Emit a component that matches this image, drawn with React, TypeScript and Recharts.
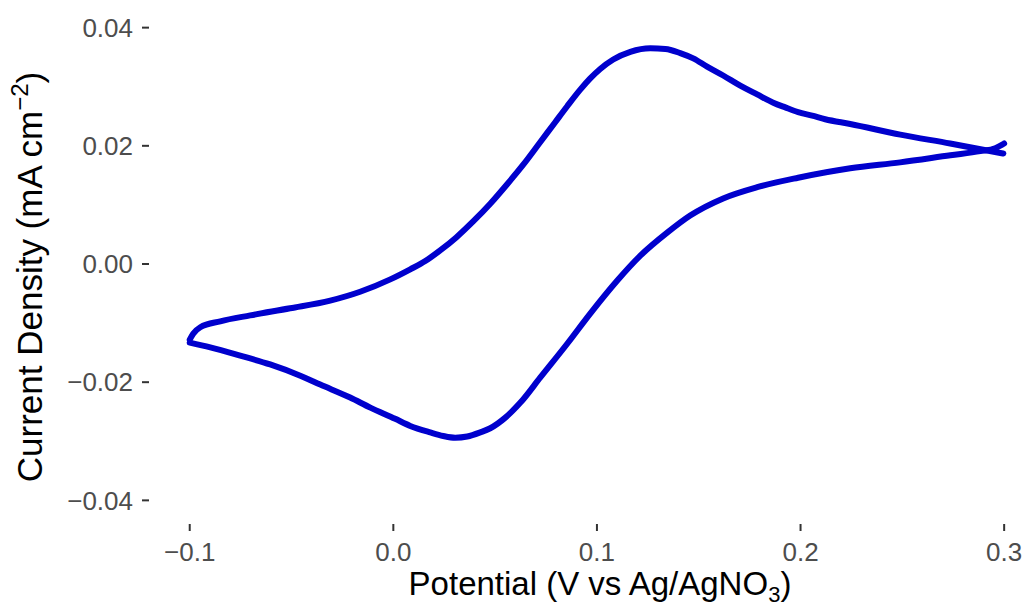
import { LineChart, Line, XAxis, YAxis } from 'recharts';

// reverse (cathodic) scan, listed by increasing potential
const reversePotential = [
  -0.1000, -0.0899, -0.0752, -0.0605, -0.0457, -0.0359, -0.0212, -0.0113, 0.0009, 0.0083,
  0.0181, 0.0245, 0.0304, 0.0363, 0.0427, 0.0476, 0.0550, 0.0623, 0.0722, 0.0854,
  0.0967, 0.1100, 0.1213, 0.1345, 0.1458, 0.1620, 0.1787, 0.1988, 0.2244, 0.2489,
  0.2736, 0.2883, 0.2956, 0.3000,
];
const reverseCurrent = [
  -0.0133, -0.0141, -0.0155, -0.0170, -0.0189, -0.0204, -0.0226, -0.0243, -0.0262, -0.0274,
  -0.0285, -0.0291, -0.0294, -0.0292, -0.0285, -0.0278, -0.0260, -0.0235, -0.0192, -0.0135,
  -0.0084, -0.0028, 0.0014, 0.0053, 0.0082, 0.0111, 0.0130, 0.0146, 0.0162, 0.0172,
  0.0184, 0.0191, 0.0196, 0.0204,
];

// forward (anodic) scan
const forwardPotential = [
  -0.1000, -0.0983, -0.0948, -0.0850, -0.0703, -0.0507, -0.0310, -0.0163, -0.0015, 0.0083,
  0.0157, 0.0230, 0.0309, 0.0392, 0.0476, 0.0559, 0.0638, 0.0721, 0.0795, 0.0854,
  0.0918, 0.0967, 0.1016, 0.1080, 0.1164, 0.1262, 0.1336, 0.1409, 0.1473, 0.1541,
  0.1620, 0.1704, 0.1787, 0.1866, 0.1925, 0.1988, 0.2057, 0.2121, 0.2244, 0.2490,
  0.2735, 0.2996,
];
const forwardCurrent = [
  -0.0128, -0.0118, -0.0107, -0.0097, -0.0087, -0.0075, -0.0062, -0.0047, -0.0026, -0.0009,
  0.0005, 0.0023, 0.0045, 0.0072, 0.0102, 0.0135, 0.0168, 0.0206, 0.0240, 0.0267,
  0.0295, 0.0314, 0.0330, 0.0346, 0.0359, 0.0365, 0.0364, 0.0357, 0.0348, 0.0334,
  0.0319, 0.0302, 0.0287, 0.0273, 0.0265, 0.0257, 0.0251, 0.0245, 0.0237, 0.0219,
  0.0204, 0.0187,
];

const xTicks = [-0.1, 0, 0.1, 0.2, 0.3];
const yTicks = [-0.04, -0.02, 0, 0.02, 0.04];

const reverseData = reversePotential.map((v, i) => ({ potential: v, current: reverseCurrent[i] }));
const forwardData = forwardPotential.map((v, i) => ({ potential: v, current: forwardCurrent[i] }));

const FONT = '"Liberation Sans", Arial, Helvetica, sans-serif';
const BLUE = '#0000cd';

const fmtX = (v: number) => (v < 0 ? '\u2212' : '') + Math.abs(v).toFixed(1);
const fmtY = (v: number) => (v < 0 ? '\u2212' : '') + Math.abs(v).toFixed(2);

export default function App() {
  return (
    <div style={{ position: 'absolute', left: 0, top: 0, width: 1029, height: 606, background: '#fff', fontFamily: FONT }}>
      <LineChart width={1029} height={606} margin={{ top: 4, right: 0, bottom: 0, left: 0 }}>
        <XAxis
          type="number"
          dataKey="potential"
          domain={[-0.12, 0.3122]}
          allowDataOverflow
          ticks={xTicks}
          interval={0}
          tickFormatter={fmtX}
          height={82}
          axisLine={false}
          tickSize={7}
          tickMargin={12}
          tickLine={{ stroke: '#333333', strokeWidth: 2 }}
          tick={{ fill: '#4d4d4d', fontSize: 26, fontFamily: FONT }}
        />
        <YAxis
          type="number"
          dataKey="current"
          domain={[-0.044, 0.044]}
          ticks={yTicks}
          interval={0}
          tickFormatter={fmtY}
          width={149}
          axisLine={false}
          tickSize={7}
          tickMargin={9}
          tickLine={{ stroke: '#333333', strokeWidth: 2 }}
          tick={{ fill: '#4d4d4d', fontSize: 26, fontFamily: FONT }}
        />
        <Line
          data={reverseData}
          type="monotoneX"
          dataKey="current"
          stroke={BLUE}
          strokeWidth={6}
          strokeLinejoin="round"
          strokeLinecap="round"
          dot={false}
          activeDot={false}
          isAnimationActive={false}
        />
        <Line
          data={forwardData}
          type="monotoneX"
          dataKey="current"
          stroke={BLUE}
          strokeWidth={6}
          strokeLinejoin="round"
          strokeLinecap="round"
          dot={false}
          activeDot={false}
          isAnimationActive={false}
        />
        <text x={600} y={595} textAnchor="middle" fontSize={33} fill="#000" fontFamily={FONT}>
          Potential (V vs Ag/AgNO<tspan fontSize={22} dy={7}>3</tspan>
          <tspan dy={-7}>)</tspan>
        </text>
        <text
          x={42}
          y={277}
          transform="rotate(-90, 42, 277)"
          textAnchor="middle"
          fontSize={35}
          fill="#000"
          fontFamily={FONT}
        >
          Current Density (mA cm<tspan fontSize={24} dy={-14}>{'\u22122'}</tspan>
          <tspan dy={14}>)</tspan>
        </text>
      </LineChart>
    </div>
  );
}
